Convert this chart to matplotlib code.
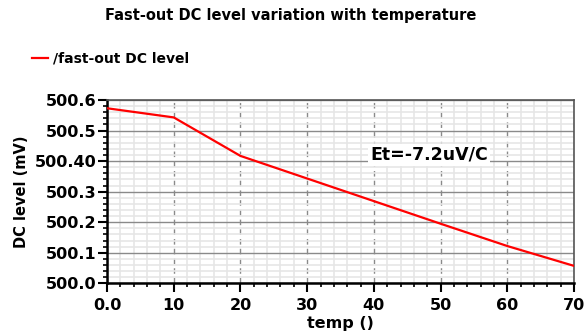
import matplotlib
matplotlib.use("Agg")
import matplotlib.pyplot as plt
from matplotlib.ticker import MultipleLocator, FixedLocator

temps = [0, 10, 20, 30, 40, 50, 60, 70]
dc_level = [500.573, 500.543, 500.417, 500.343, 500.269, 500.195, 500.122, 500.057]

y_ticks = [500.0, 500.1, 500.2, 500.3, 500.4, 500.5, 500.6]
y_tick_labels = ["500.0", "500.1", "500.2", "500.3", "500.40", "500.5", "500.6"]
x_ticks = [0, 10, 20, 30, 40, 50, 60, 70]
x_tick_labels = ["0.0", "10", "20", "30", "40", "50", "60", "70"]

fig = plt.figure(figsize=(5.87, 3.34), dpi=100)
ax = fig.add_axes([0.1823, 0.1518, 0.7956, 0.5488])

ax.plot(temps, dc_level, color="#ff0000", lw=1.6, zorder=3)

ax.set_xlim(0, 70)
ax.set_ylim(500.0, 500.6)

ax.xaxis.set_major_locator(FixedLocator(x_ticks))
ax.yaxis.set_major_locator(FixedLocator(y_ticks))
ax.set_xticklabels(x_tick_labels)
ax.set_yticklabels(y_tick_labels)
ax.xaxis.set_minor_locator(MultipleLocator(2))
ax.yaxis.set_minor_locator(MultipleLocator(0.02))

ax.grid(which="minor", color="#e6e6e6", lw=1.2, zorder=0)
ax.grid(which="major", axis="y", color="#8a8a8a", lw=1.0, zorder=1)
ax.grid(which="major", axis="x", color="#8a8a8a", lw=1.0, ls=(0, (4, 3)), zorder=1)

ax.tick_params(which="major", direction="out", length=6.5, width=1.5,
               labelsize=11.5)
ax.tick_params(axis="y", which="major", pad=1)
ax.tick_params(axis="x", which="major", pad=4)
ax.tick_params(which="minor", direction="out", length=3, width=1.2)
for lab in ax.get_xticklabels() + ax.get_yticklabels():
    lab.set_fontweight("bold")

for side in ("left", "bottom"):
    ax.spines[side].set_color("black")
    ax.spines[side].set_linewidth(1.8)
for side in ("top", "right"):
    ax.spines[side].set_color("#555555")
    ax.spines[side].set_linewidth(1.2)

ax.set_xlabel("temp ()", fontsize=11.5, fontweight="bold", labelpad=2)
ax.set_ylabel("DC level (mV)", fontsize=10.5, fontweight="bold", labelpad=4)

ax.text(48.3, 500.42, "Et=-7.2uV/C", fontsize=12.5, fontweight="bold",
        ha="center", va="center", zorder=4,
        bbox=dict(facecolor="white", edgecolor="none", pad=1.5))

fig.text(0.496, 0.955, "Fast-out DC level variation with temperature",
         fontsize=10.5, fontweight="bold", ha="center", va="center")

fig.add_artist(plt.Line2D([32 / 587, 48 / 587], [1 - 58 / 334, 1 - 58 / 334],
                          color="#ff0000", lw=1.6))
fig.text(53 / 587, 1 - 58 / 334, "/fast-out DC level", fontsize=10,
         fontweight="bold", ha="left", va="center")

fig.savefig("out.png", dpi=100)
